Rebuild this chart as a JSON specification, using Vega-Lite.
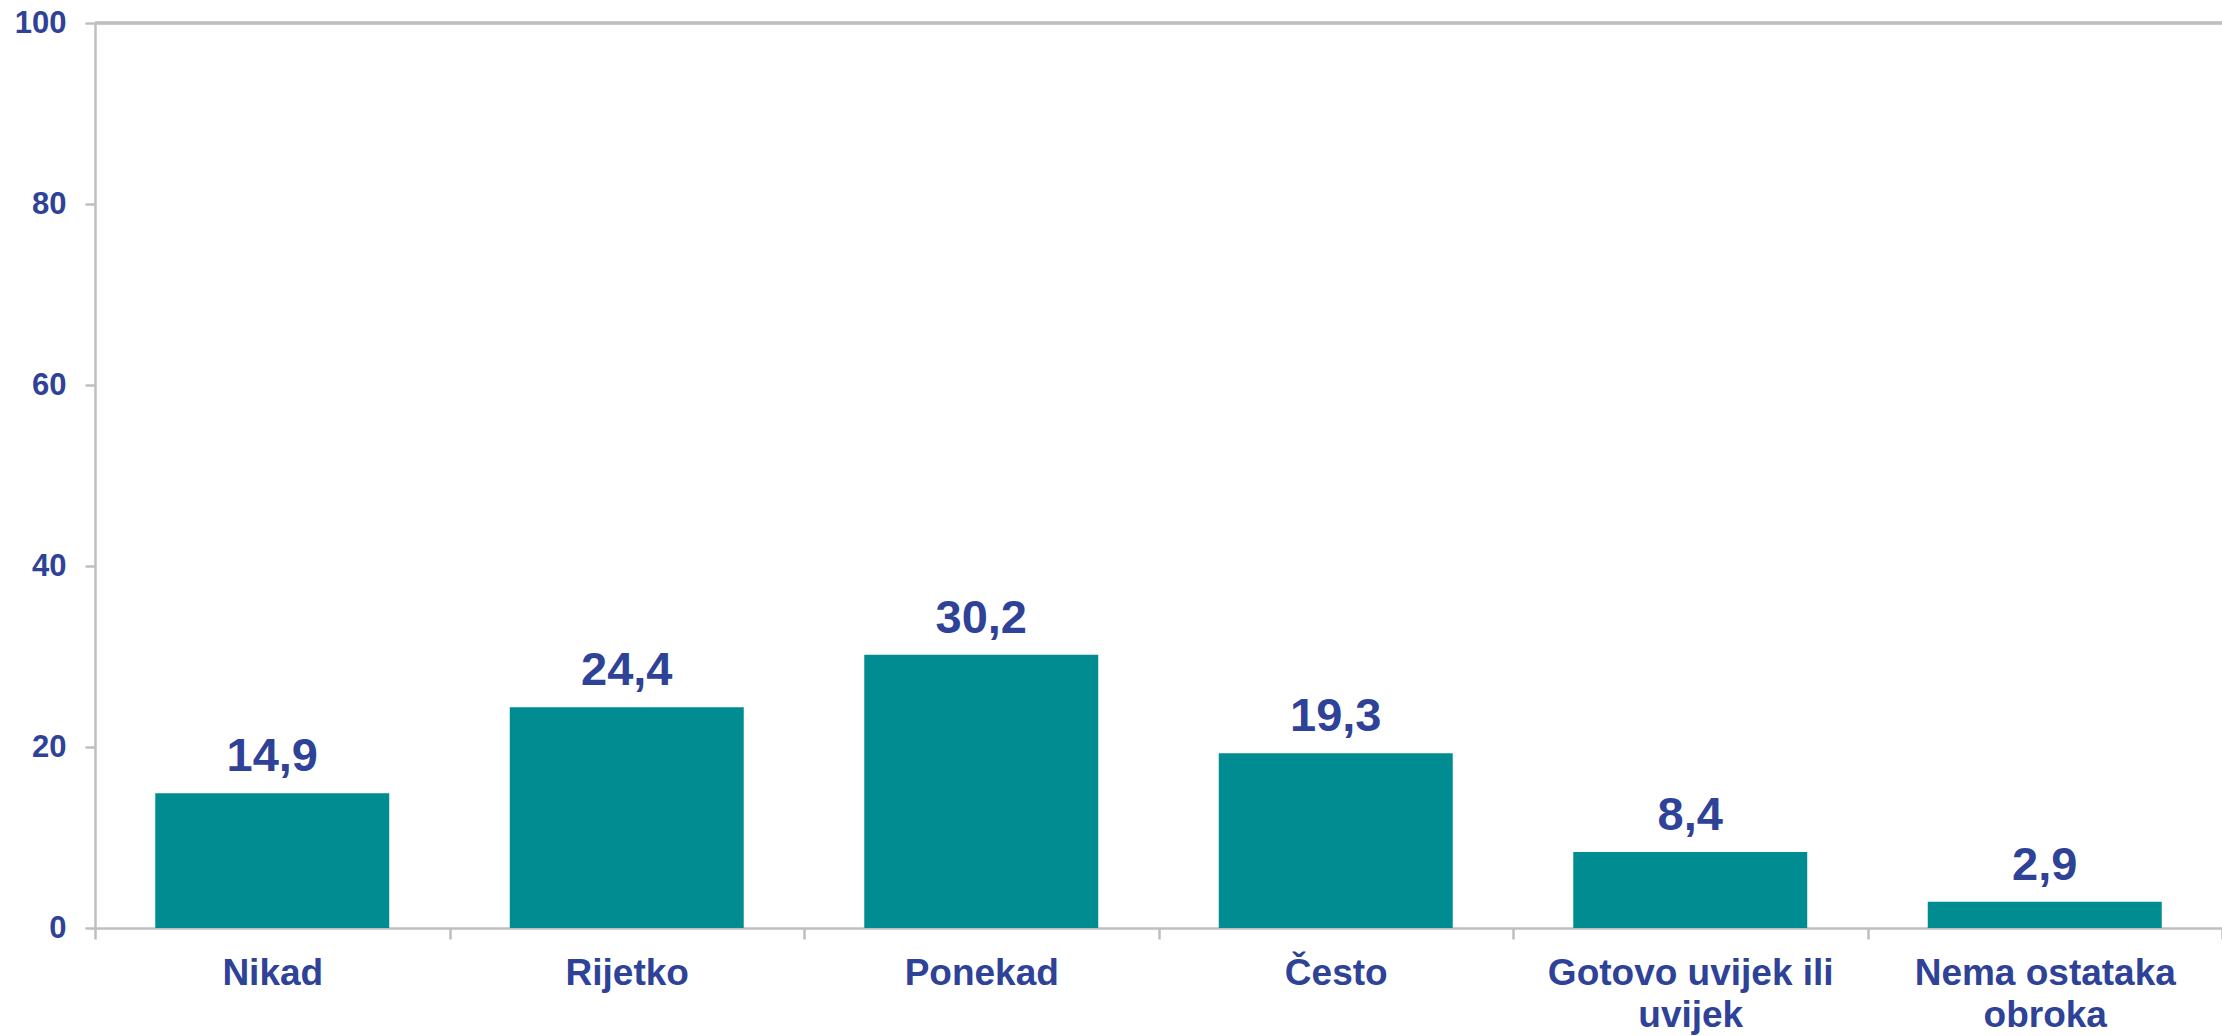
{
  "$schema": "https://vega.github.io/schema/vega-lite/v6.json",
  "autosize": "none",
  "width": 2127,
  "height": 905,
  "padding": {"left": 95, "top": 23, "right": 0, "bottom": 108},
  "background": "white",
  "config": {
    "view": {"stroke": null},
    "font": "Liberation Sans",
    "locale": {
      "number": {"decimal": ",", "thousands": ".", "grouping": [3], "currency": ["", ""]}
    }
  },
  "data": {
    "values": [
      {"kategorija": "Nikad", "postotak": 14.9},
      {"kategorija": "Rijetko", "postotak": 24.4},
      {"kategorija": "Ponekad", "postotak": 30.2},
      {"kategorija": "Često", "postotak": 19.3},
      {"kategorija": "Gotovo uvijek ili uvijek", "postotak": 8.4},
      {"kategorija": "Nema ostataka obroka", "postotak": 2.9}
    ]
  },
  "encoding": {
    "x": {
      "field": "kategorija",
      "type": "nominal",
      "sort": null,
      "scale": {"paddingInner": 0, "paddingOuter": 0},
      "axis": {
        "title": null,
        "labelAngle": 0,
        "labelFont": "Liberation Sans",
        "labelFontSize": 37,
        "labelFontWeight": "bold",
        "labelColor": "#2E4297",
        "labelLineHeight": 42,
        "labelPadding": 16,
        "labelBaseline": "top",
        "labelLimit": 0,
        "tickBand": "extent",
        "tickSize": 11,
        "tickWidth": 2.5,
        "tickColor": "#BFBFBF",
        "domainColor": "#BFBFBF",
        "domainWidth": 2.5,
        "labelExpr": "datum.label == 'Gotovo uvijek ili uvijek' ? ['Gotovo uvijek ili', 'uvijek'] : datum.label == 'Nema ostataka obroka' ? ['Nema ostataka', 'obroka'] : datum.label"
      }
    }
  },
  "layer": [
    {
      "mark": {"type": "bar", "color": "#008C90", "width": {"band": 0.66}},
      "encoding": {
        "y": {
          "field": "postotak",
          "type": "quantitative",
          "scale": {"domain": [0, 100], "nice": false},
          "axis": {
            "title": null,
            "values": [0, 20, 40, 60, 80, 100],
            "grid": false,
            "labelFont": "Liberation Sans",
            "labelFontSize": 31,
            "labelFontWeight": "bold",
            "labelColor": "#2E4297",
            "labelPadding": 19,
            "tickSize": 10,
            "tickWidth": 2.5,
            "tickColor": "#BFBFBF",
            "domainColor": "#BFBFBF",
            "domainWidth": 2.5
          }
        }
      }
    },
    {
      "mark": {
        "type": "text",
        "font": "Liberation Sans",
        "fontSize": 47,
        "fontWeight": "bold",
        "color": "#2E4297",
        "baseline": "alphabetic",
        "dy": -22
      },
      "encoding": {
        "y": {"field": "postotak", "type": "quantitative"},
        "text": {"field": "postotak", "type": "quantitative", "format": ".1f"}
      }
    },
    {
      "mark": {"type": "rule", "color": "#BFBFBF", "strokeWidth": 2.5},
      "encoding": {
        "y": {"datum": 100},
        "x": {"value": 0},
        "x2": {"value": 2127}
      }
    }
  ]
}
